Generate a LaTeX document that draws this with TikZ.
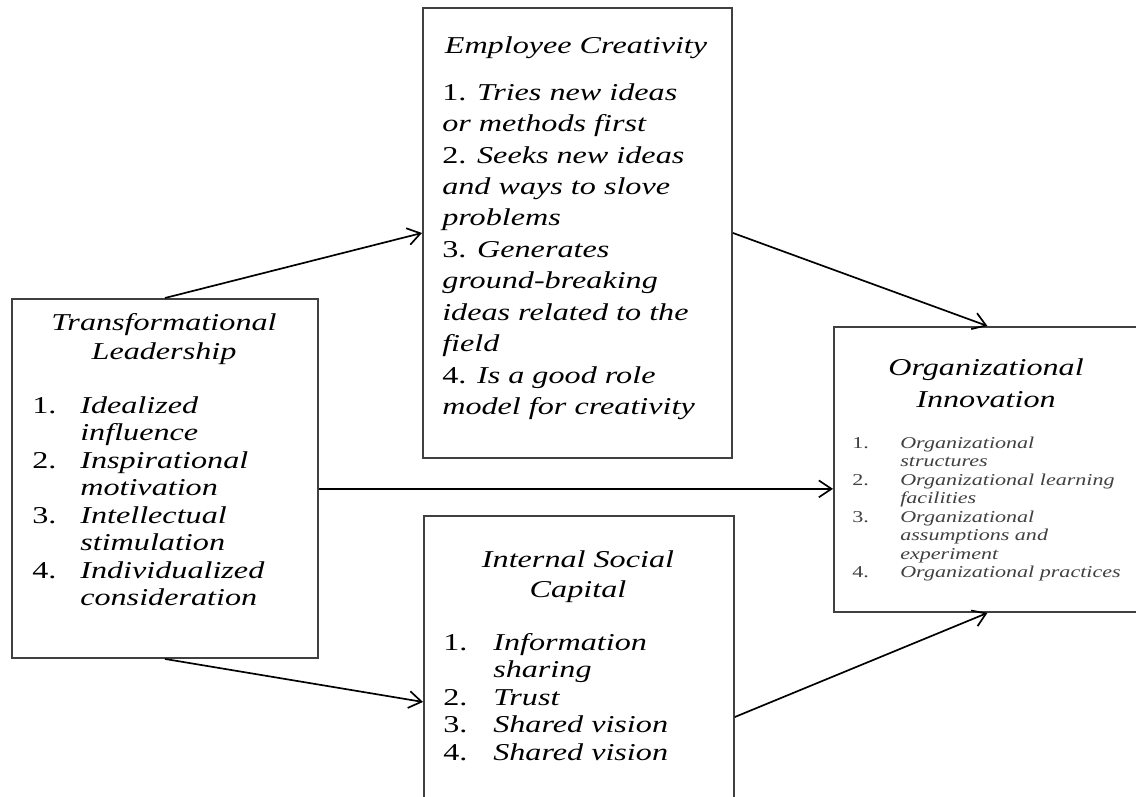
\documentclass[tikz,border=0pt]{standalone}
\usepackage{fontspec}
\setmainfont{Liberation Serif}[FakeStretch=1.33]
\usetikzlibrary{arrows.meta}
\tikzset{
  box/.style={draw=black!75, line width=1.3pt, inner sep=0pt, anchor=north west},
  conn/.style={-{Straight Barb[length=9pt,width=12pt]}, line width=1.2pt},
  headtext/.style={anchor=base, inner sep=0pt, font=\fontsize{17.2}{#1}\selectfont\itshape},
  listtext/.style={anchor=base west, inner sep=0pt, font=\fontsize{17.2}{#1}\selectfont},
}
\begin{document}
\begin{tikzpicture}[x=0.025cm, y=-0.025cm]
\useasboundingbox (0,0) rectangle (1136,796);
% boxes
\node[box, minimum width=7.65cm, minimum height=8.975cm] (tl) at (11,298) {};
\node[box, minimum width=7.725cm, minimum height=11.25cm] (ec) at (422,7) {};
\node[box, minimum width=7.75cm, minimum height=9.3cm] (isc) at (423,515) {};
\node[box, minimum width=7.675cm, minimum height=7.125cm] (oi) at (833,326) {};
% Transformational Leadership
\node[headtext=21.3] (tl-head) at (164,330) {\begin{tabular}[t]{@{}c@{}}Transformational\\ Leadership\end{tabular}};
\node[listtext=19.56] (tl-list) at (32,413) {\begin{tabular}[t]{@{}p{1.2cm}@{}l@{}}
1. & \textit{Idealized}\\
   & \textit{influence}\\
2. & \textit{Inspirational}\\
   & \textit{motivation}\\
3. & \textit{Intellectual}\\
   & \textit{stimulation}\\
4. & \textit{Individualized}\\
   & \textit{consideration}
\end{tabular}};
% Employee Creativity
\node[headtext=22.4] (ec-head) at (576,53) {Employee Creativity};
\node[listtext=22.4] (ec-list) at (442,100) {\begin{tabular}[t]{@{}l@{}}
1. \textit{Tries new ideas}\\
\textit{or methods first}\\
2. \textit{Seeks new ideas}\\
\textit{and ways to slove}\\
\textit{problems}\\
3. \textit{Generates}\\
\textit{ground-breaking}\\
\textit{ideas related to the}\\
\textit{field}\\
4. \textit{Is a good role}\\
\textit{model for creativity}
\end{tabular}};
% Internal Social Capital
\node[headtext=22] (isc-head) at (578,567) {\begin{tabular}[t]{@{}c@{}}Internal Social\\ Capital\end{tabular}};
\node[listtext=19.56] (isc-list) at (443,650) {\begin{tabular}[t]{@{}p{1.25cm}@{}l@{}}
1. & \textit{Information}\\
   & \textit{sharing}\\
2. & \textit{Trust}\\
3. & \textit{Shared vision}\\
4. & \textit{Shared vision}
\end{tabular}};
% Organizational Innovation
\node[headtext=22.8] (oi-head) at (986,375) {\begin{tabular}[t]{@{}c@{}}Organizational\\ Innovation\end{tabular}};
\node[anchor=base west, inner sep=0pt, text=black!75, font=\fontsize{11.8}{13.2}\selectfont] (oi-list) at (852,448) {\begin{tabular}[t]{@{}p{1.2cm}@{}l@{}}
1. & \textit{Organizational}\\
   & \textit{structures}\\
2. & \textit{Organizational learning}\\
   & \textit{facilities}\\
3. & \textit{Organizational}\\
   & \textit{assumptions and}\\
   & \textit{experiment}\\
4. & \textit{Organizational practices}
\end{tabular}};
% connectors
\draw[conn] (tl.north) -- (ec.west);
\draw[conn] (ec.east) -- (oi.north);
\draw[conn] ([yshift=-0.26cm]tl.east) -- ([yshift=-0.26cm]tl.east -| oi.west);
\draw[conn] (tl.south) -- (isc.west);
\draw[conn] ([yshift=-0.375cm]isc.east) -- (oi.south);
\end{tikzpicture}
\end{document}
